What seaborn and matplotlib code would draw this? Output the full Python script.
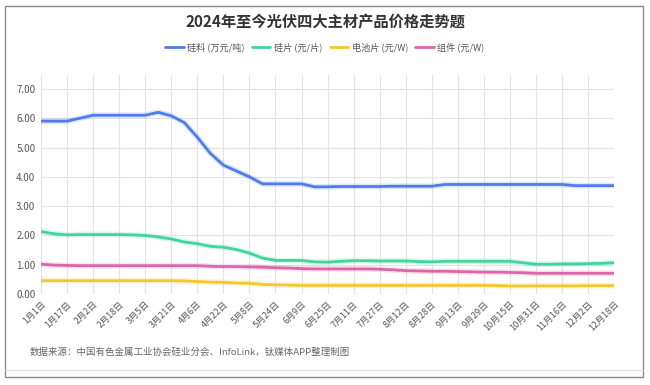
import matplotlib
matplotlib.use("Agg")
import matplotlib.pyplot as plt
import matplotlib.patheffects as pe
from matplotlib.patches import Rectangle
import seaborn as sns
import pandas as pd
import numpy as np

# x categories: every 8 days from 2024-01-01 to 2024-12-18
dates = pd.date_range("2024-01-01", "2024-12-18", freq="8D")
tick_labels = ["1月1日", "1月17日", "2月2日", "2月18日", "3月5日", "3月21日", "4月6日",
               "4月22日", "5月8日", "5月24日", "6月9日", "6月25日", "7月11日", "7月27日",
               "8月12日", "8月28日", "9月13日", "9月29日", "10月15日", "10月31日",
               "11月16日", "12月2日", "12月18日"]

polysilicon = [5.90, 5.90, 5.90, 6.00, 6.10, 6.10, 6.10, 6.10, 6.10, 6.20,
               6.08, 5.85, 5.35, 4.80, 4.40, 4.20, 4.00, 3.76, 3.76, 3.76,
               3.76, 3.66, 3.66, 3.67, 3.67, 3.67, 3.67, 3.68, 3.68, 3.68,
               3.68, 3.74, 3.74, 3.74, 3.74, 3.74, 3.74, 3.74, 3.74, 3.74,
               3.74, 3.70, 3.70, 3.70, 3.70]
wafer = [2.13, 2.06, 2.02, 2.03, 2.03, 2.03, 2.03, 2.02, 2.00, 1.95,
         1.88, 1.78, 1.72, 1.63, 1.60, 1.52, 1.40, 1.23, 1.15, 1.15,
         1.15, 1.10, 1.09, 1.12, 1.14, 1.14, 1.13, 1.13, 1.13, 1.11,
         1.10, 1.12, 1.12, 1.12, 1.12, 1.12, 1.12, 1.07, 1.02, 1.02,
         1.03, 1.03, 1.04, 1.05, 1.07]
cell = [0.46, 0.46, 0.46, 0.46, 0.46, 0.46, 0.46, 0.46, 0.46, 0.46,
        0.46, 0.45, 0.43, 0.41, 0.40, 0.38, 0.37, 0.33, 0.32, 0.31,
        0.30, 0.30, 0.30, 0.30, 0.30, 0.30, 0.30, 0.30, 0.30, 0.30,
        0.30, 0.30, 0.30, 0.30, 0.30, 0.29, 0.28, 0.28, 0.28, 0.28,
        0.28, 0.28, 0.29, 0.29, 0.29]
module = [1.02, 0.99, 0.98, 0.97, 0.97, 0.97, 0.97, 0.97, 0.97, 0.97,
          0.97, 0.97, 0.97, 0.95, 0.94, 0.94, 0.93, 0.92, 0.90, 0.89,
          0.87, 0.86, 0.86, 0.86, 0.86, 0.86, 0.85, 0.83, 0.80, 0.79,
          0.78, 0.78, 0.77, 0.76, 0.75, 0.75, 0.74, 0.73, 0.71, 0.71,
          0.71, 0.71, 0.71, 0.71, 0.71]

series_names = ["硅料 (万元/吨)", "硅片 (元/片)", "电池片 (元/W)", "组件 (元/W)"]
colors = ["#4f7ced", "#42d49c", "#f6c62c", "#dd66a8"]

df = pd.concat([
    pd.DataFrame({"date": dates, "value": vals, "series": name})
    for name, vals in zip(series_names, [polysilicon, wafer, cell, module])
])

sns.set_style("white")
plt.rcParams["font.family"] = ["Noto Sans CJK SC", "DejaVu Sans"]

fig = plt.figure(figsize=(6.5, 3.85), dpi=100)
ax = fig.add_axes([0.063, 0.236, 0.882, 0.569])

sns.lineplot(data=df, x="date", y="value", hue="series", palette=colors,
             linewidth=2.0, ax=ax, legend=False)
for line, c in zip(ax.get_lines(), colors):
    line.set_path_effects([pe.Stroke(linewidth=4.2, foreground=c, alpha=0.18), pe.Normal()])

ax.set_ylim(0, 7.47)
ax.set_xlim(dates[0], dates[-1])
ax.set_yticks(np.arange(0, 8, 1))
ax.set_yticklabels([f"{v:.2f}" for v in np.arange(0, 8, 1)], fontsize=7, color="#555555")
ax.set_xticks(dates[::2])
ax.set_xticklabels(tick_labels, rotation=45, ha="right", rotation_mode="anchor",
                   fontsize=6.5, color="#555555")
ax.tick_params(axis="both", length=0, pad=4)
ax.grid(True, color="#e3e3e3", linewidth=0.8)
for s in ax.spines.values():
    s.set_visible(False)
ax.set_xlabel("")
ax.set_ylabel("")

# title
fig.text(0.5, 0.942, "2024年至今光伏四大主材产品价格走势题", ha="center", va="center",
         fontsize=11, fontweight="bold", color="#333333")

# legend
handles = [plt.Line2D([], [], color=c, linewidth=2) for c in colors]
fig.legend(handles, series_names, loc="center", bbox_to_anchor=(0.5, 0.878),
           ncol=4, frameon=False, fontsize=6.6, handlelength=2.0, handletextpad=0.4,
           columnspacing=0.8, labelcolor="#555555")

# source
fig.text(0.046, 0.085, "数据来源：中国有色金属工业协会硅业分会、InfoLink，钛媒体APP整理制图",
         ha="left", va="center", fontsize=6.8, color="#666666")

# border
fig.patches.append(Rectangle((0.008, 0.02), 0.981, 0.965, transform=fig.transFigure,
                             fill=False, edgecolor="#8a8a8a", linewidth=1.0))
fig.lines.append(plt.Line2D([0.008, 0.989], [0.04, 0.04], transform=fig.transFigure,
                            color="#e0e0e0", linewidth=0.8))

fig.savefig("out.png", dpi=100, facecolor="white")
